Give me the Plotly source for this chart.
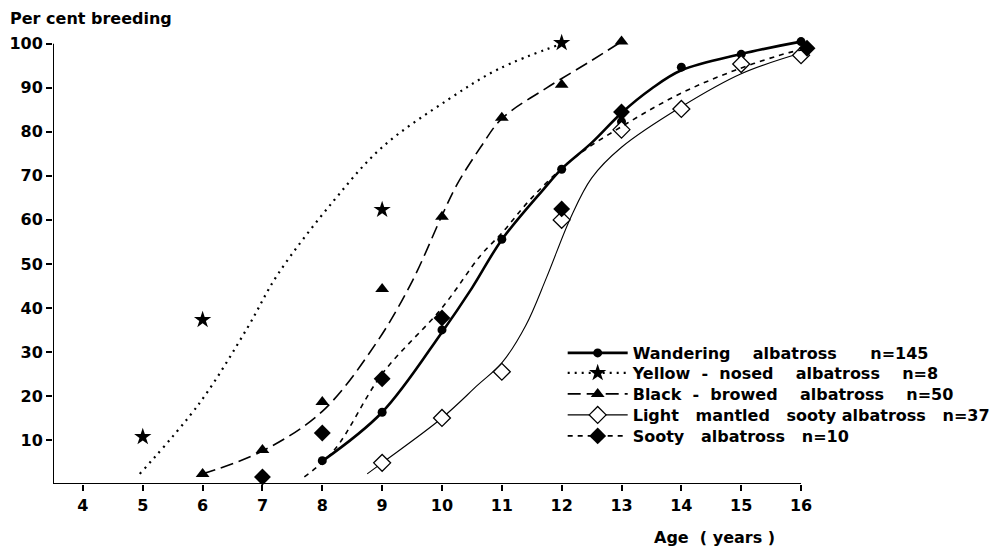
import plotly.graph_objects as go

# ---- data ----
ages_wandering = [8, 9, 10, 11, 12, 13, 14, 15, 16]
pct_wandering = [5.3, 16.3, 35.0, 55.6, 71.5, 82.3, 94.7, 97.6, 100.5]
curve_wandering_x = [8, 9, 10, 10.5, 11, 11.7, 12, 12.5, 13, 13.5, 14, 15, 16]
curve_wandering_y = [5.2, 16.3, 34.5, 44.5, 55.5, 67, 71.6, 77.5, 84.3, 89.8, 94.0, 97.7, 100.5]

ages_yellow = [5, 6, 9, 12]
pct_yellow = [10.7, 37.3, 62.3, 100.2]
curve_yellow_x = [4.95, 5.95, 6.75, 7.25, 8.2, 9.0, 10.1, 10.95, 12]
curve_yellow_y = [2.3, 18.4, 35.5, 47.5, 64.5, 76.5, 87.3, 94.3, 100]

ages_black = [6, 7, 8, 9, 10, 11, 12, 13]
pct_black = [2.3, 7.7, 18.6, 44.3, 60.7, 83.2, 90.7, 100.5]
curve_black_x = [6, 7, 8, 8.9, 9.5, 10, 10.25, 10.65, 11, 11.75, 12.5, 13]
curve_black_y = [2.3, 7.5, 16.5, 32, 46, 61, 68, 76.6, 83, 90, 96.2, 100.5]

ages_light = [9, 10, 11, 12, 13, 14, 15, 16]
pct_light = [4.8, 15.0, 25.5, 60.0, 80.5, 85.2, 95.4, 97.4]
curve_light_x = [8.75, 9, 10, 10.6, 11, 11.4, 11.75, 12.15, 12.5, 13, 14, 15, 16]
curve_light_y = [2.3, 4.8, 15, 22.5, 27.5, 36, 47, 60.5, 69.5, 76.5, 85.7, 93.2, 97.9]

ages_sooty = [7, 8, 9, 10, 12, 13, 16.1]
pct_sooty = [1.6, 11.6, 23.9, 37.7, 62.5, 84.5, 99.0]
curve_sooty_x = [7.7, 8.2, 9, 10, 10.65, 11, 11.5, 12.2, 13.1, 14, 14.9, 15.8, 16.1]
curve_sooty_y = [1.6, 7.7, 25, 40, 52, 57, 65, 74, 82, 88.8, 94, 98, 98.8]

x_ticks = [4, 5, 6, 7, 8, 9, 10, 11, 12, 13, 14, 15, 16]
y_ticks = [10, 20, 30, 40, 50, 60, 70, 80, 90, 100]

NB = "\u00a0"
legend_names = [
    "Wandering" + NB * 4 + "albatross" + NB * 6 + "n=145",
    "Yellow" + NB * 2 + "-" + NB * 2 + "nosed" + NB * 4 + "albatross" + NB * 4 + "n=8",
    "Black" + NB * 2 + "-" + NB * 2 + "browed" + NB * 4 + "albatross" + NB * 4 + "n=50",
    "Light" + NB * 3 + "mantled" + NB * 3 + "sooty albatross" + NB * 3 + "n=37",
    "Sooty" + NB * 3 + "albatross" + NB * 3 + "n=10",
]

FONT = "DejaVu Sans"
K = "black"

series = [
    dict(ax=ages_wandering, ay=pct_wandering, cx=curve_wandering_x, cy=curve_wandering_y,
         line=dict(color=K, width=2.6), marker=dict(symbol="circle", size=9, color=K)),
    dict(ax=ages_yellow, ay=pct_yellow, cx=curve_yellow_x, cy=curve_yellow_y,
         line=dict(color=K, width=2.2, dash="2px,5px"), marker=dict(symbol="star", size=13, color=K)),
    dict(ax=ages_black, ay=pct_black, cx=curve_black_x, cy=curve_black_y,
         line=dict(color=K, width=1.6, dash="13px,6px"), marker=dict(symbol="triangle-up", size=12, color=K)),
    dict(ax=ages_light, ay=pct_light, cx=curve_light_x, cy=curve_light_y,
         line=dict(color=K, width=1.1), marker=dict(symbol="diamond", size=13, color="white",
                                                      line=dict(color=K, width=1.3))),
    dict(ax=ages_sooty, ay=pct_sooty, cx=curve_sooty_x, cy=curve_sooty_y,
         line=dict(color=K, width=1.6, dash="5px,5px"), marker=dict(symbol="diamond", size=13, color=K)),
]

legend_keys = ["legend", "legend2", "legend3", "legend4", "legend5"]
legend_y = [0.2918, 0.2472, 0.2004, 0.1537, 0.1069]

fig = go.Figure()
for s, name, lk in zip(series, legend_names, legend_keys):
    fig.add_trace(go.Scatter(x=s["cx"], y=s["cy"], mode="lines",
                             line=dict(**s["line"], shape="spline", smoothing=1.0),
                             showlegend=False, hoverinfo="skip"))
    fig.add_trace(go.Scatter(x=s["ax"], y=s["ay"], mode="markers", marker=s["marker"],
                             showlegend=False, cliponaxis=False))
    fig.add_trace(go.Scatter(x=[None], y=[None], mode="lines+markers", name=name,
                             line=s["line"], marker=s["marker"], legend=lk, showlegend=True))

legend_font = dict(family=FONT, size=16, color=K, weight="bold")
legends = {}
for lk, ly in zip(legend_keys, legend_y):
    legends[lk] = dict(x=0.668, y=ly, xanchor="left", yanchor="middle", bgcolor="rgba(0,0,0,0)",
                       font=legend_font, itemwidth=60, borderwidth=0)

tick_font = dict(family=FONT, size=16, color=K, weight="bold")

fig.update_layout(
    width=990, height=542,
    margin=dict(l=45, r=182, t=27, b=66, autoexpand=False),
    paper_bgcolor="white", plot_bgcolor="white",
    font=dict(family=FONT, size=16, color=K),
    showlegend=True,
    xaxis=dict(range=[3.5, 16.25], tickvals=x_ticks, ticktext=[str(v) for v in x_ticks],
               showgrid=False, zeroline=False, showline=False, ticks="outside", ticklen=6,
               tickwidth=1.5, tickcolor=K, ticklabelstandoff=1, tickfont=tick_font, automargin=False),
    yaxis=dict(range=[0, 102], tickvals=y_ticks, ticktext=[str(v) for v in y_ticks],
               showgrid=False, zeroline=False, showline=False, ticks="outside", ticklen=6,
               tickwidth=1.5, tickcolor=K, tickfont=tick_font, automargin=False),
    shapes=[
        dict(type="line", xref="x", yref="y", x0=3.5, x1=16, y0=0, y1=0, line=dict(color=K, width=2)),
        dict(type="line", xref="x", yref="y", x0=3.5, x1=3.5, y0=0, y1=100, line=dict(color=K, width=2)),
    ],
    annotations=[
        dict(text="Per cent breeding", xref="paper", yref="paper", x=-0.059, y=1.0, yshift=17,
             xanchor="left", yanchor="middle", showarrow=False,
             font=dict(family=FONT, size=16, color=K, weight="bold")),
        dict(text="Age\u00a0 (\u00a0years\u00a0)", xref="paper", yref="paper", x=0.785, y=0, yshift=-53,
             xanchor="left", yanchor="middle", showarrow=False,
             font=dict(family=FONT, size=16, color=K, weight="bold")),
    ],
    **legends,
)

fig.write_html("out.html")
